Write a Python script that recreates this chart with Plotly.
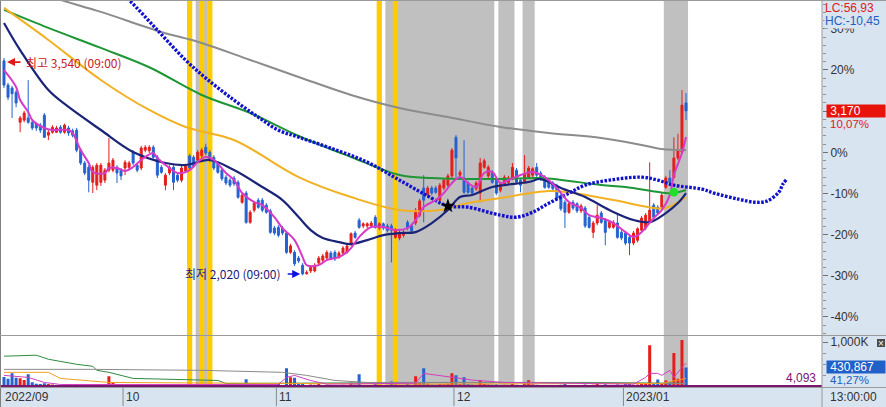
import plotly.graph_objects as go

# ------------------------------------------------------------------ data
base_price = 2880            # price that corresponds to 0 %
month_labels = ["2022/09", "10", "11", "12", "2023/01"]
month_start_idx = [0, 30, 68, 112, 154]

opens = [3520, 3350, 3330, 3300, 3090, 3105, 3120, 3090, 3080, 3070,
         3140, 3000, 3020, 3020, 3055, 3020, 3050, 3030, 3035, 2895,
         2805, 2775, 2670, 2650, 2670, 2685, 2755, 2755, 2775, 2755,
         2770, 2775, 2880, 2790, 2770, 2895, 2890, 2915, 2845, 2775,
         2650, 2735, 2775, 2720, 2685, 2750, 2855, 2845, 2825, 2855,
         2915, 2880, 2845, 2800, 2755, 2705, 2685, 2700, 2670, 2530,
         2595, 2390, 2475, 2545, 2545, 2510, 2470, 2350, 2355, 2350,
         2315, 2180, 2180, 2140, 2090, 2030, 2050, 2050, 2105, 2125,
         2140, 2175, 2180, 2145, 2175, 2180, 2240, 2315, 2405, 2365,
         2365, 2365, 2425, 2350, 2380, 2365, 2365, 2285, 2280, 2300,
         2390, 2365, 2385, 2440, 2630, 2580, 2630, 2630, 2545, 2630,
         2650, 2715, 2985, 2720, 2700, 2665, 2630, 2625, 2595, 2775,
         2715, 2740, 2685, 2615, 2660, 2670, 2700, 2755, 2685, 2670,
         2705, 2720, 2775, 2735, 2705, 2680, 2665, 2645, 2580, 2530,
         2460, 2530, 2520, 2470, 2490, 2425, 2320, 2385, 2455, 2405,
         2355, 2355, 2385, 2320, 2315, 2285, 2245, 2265, 2335, 2350,
         2390, 2510, 2495, 2495, 2635, 2700, 2705, 2840, 2880, 3225]
highs = [3540, 3365, 3345, 3315, 3135, 3170, 3385, 3105, 3090, 3085,
         3155, 3035, 3070, 3065, 3070, 3080, 3065, 3045, 3050, 2910,
         2820, 2790, 2790, 2805, 2805, 2770, 2980, 2840, 2790, 2770,
         2825, 2820, 2895, 2805, 2925, 2930, 2930, 2930, 2860, 2790,
         2735, 2790, 2790, 2735, 2785, 2800, 2870, 2860, 2895, 2910,
         2940, 2895, 2860, 2810, 2770, 2720, 2700, 2715, 2685, 2595,
         2610, 2475, 2540, 2560, 2560, 2525, 2485, 2365, 2370, 2365,
         2330, 2240, 2195, 2155, 2105, 2055, 2090, 2105, 2155, 2170,
         2195, 2190, 2195, 2190, 2225, 2240, 2320, 2330, 2420, 2390,
         2390, 2400, 2440, 2390, 2390, 2380, 2380, 2350, 2335, 2335,
         2405, 2380, 2490, 2555, 2720, 2645, 2645, 2645, 2665, 2700,
         2730, 2910, 3000, 2755, 2965, 2680, 2645, 2680, 2840, 2835,
         2790, 2755, 2700, 2670, 2720, 2715, 2805, 2770, 2700, 2860,
         2785, 2775, 2805, 2750, 2720, 2695, 2680, 2660, 2595, 2545,
         2530, 2545, 2530, 2520, 2505, 2440, 2400, 2510, 2470, 2420,
         2405, 2405, 2455, 2335, 2330, 2300, 2330, 2355, 2435, 2455,
         2810, 2525, 2510, 2595, 2715, 2755, 2985, 3010, 3315, 3295]
lows = [3330, 3245, 3120, 3195, 3020, 3090, 3080, 3035, 3030, 3015,
        2980, 2965, 3010, 3015, 3010, 3010, 2995, 2985, 2880, 2790,
        2720, 2600, 2595, 2615, 2645, 2665, 2740, 2740, 2665, 2685,
        2720, 2755, 2790, 2740, 2755, 2880, 2875, 2835, 2700, 2730,
        2615, 2720, 2615, 2670, 2670, 2735, 2755, 2770, 2810, 2840,
        2860, 2810, 2755, 2730, 2680, 2650, 2635, 2645, 2555, 2520,
        2380, 2380, 2460, 2485, 2460, 2450, 2310, 2300, 2285, 2300,
        2170, 2170, 2085, 2105, 2020, 2025, 2035, 2040, 2090, 2110,
        2125, 2125, 2120, 2135, 2160, 2170, 2225, 2275, 2345, 2350,
        2350, 2350, 2345, 2335, 2335, 2320, 2110, 2275, 2265, 2285,
        2335, 2315, 2370, 2425, 2390, 2565, 2580, 2590, 2530, 2615,
        2635, 2700, 2705, 2705, 2590, 2590, 2580, 2610, 2530, 2765,
        2700, 2660, 2580, 2600, 2645, 2660, 2685, 2660, 2600, 2660,
        2695, 2705, 2705, 2680, 2625, 2625, 2610, 2545, 2470, 2350,
        2450, 2475, 2455, 2455, 2350, 2345, 2280, 2370, 2380, 2230,
        2345, 2345, 2275, 2265, 2230, 2160, 2230, 2250, 2320, 2335,
        2380, 2415, 2440, 2485, 2625, 2660, 2695, 2825, 2870, 3105]
closes = [3350, 3265, 3290, 3225, 3120, 3155, 3090, 3050, 3050, 3035,
          2985, 3020, 3055, 3050, 3020, 3070, 3015, 3000, 2895, 2805,
          2735, 2685, 2775, 2790, 2790, 2755, 2805, 2825, 2735, 2715,
          2810, 2805, 2805, 2755, 2910, 2915, 2915, 2845, 2720, 2740,
          2720, 2775, 2670, 2685, 2770, 2785, 2770, 2785, 2880, 2895,
          2875, 2825, 2770, 2740, 2695, 2665, 2650, 2660, 2565, 2580,
          2390, 2460, 2525, 2495, 2475, 2460, 2320, 2315, 2300, 2315,
          2180, 2225, 2100, 2120, 2030, 2040, 2075, 2090, 2140, 2155,
          2180, 2140, 2135, 2175, 2210, 2225, 2310, 2285, 2355, 2380,
          2380, 2385, 2355, 2380, 2350, 2335, 2335, 2335, 2320, 2320,
          2350, 2330, 2475, 2540, 2545, 2630, 2595, 2600, 2650, 2685,
          2715, 2895, 2840, 2740, 2600, 2600, 2595, 2665, 2805, 2820,
          2775, 2670, 2595, 2660, 2705, 2700, 2775, 2670, 2650, 2730,
          2770, 2765, 2720, 2695, 2635, 2635, 2625, 2560, 2485, 2460,
          2520, 2490, 2470, 2505, 2365, 2355, 2385, 2440, 2390, 2320,
          2390, 2390, 2285, 2280, 2245, 2245, 2315, 2345, 2420, 2440,
          2475, 2425, 2455, 2580, 2700, 2670, 2840, 2895, 3210, 3170]
volumes_k = [220, 180, 300, 200, 190, 150, 280, 100, 70, 60,
             80, 60, 50, 40, 40, 50, 40, 35, 60, 50,
             40, 60, 50, 40, 45, 35, 235, 90, 60, 40,
             35, 30, 40, 30, 45, 30, 25, 30, 40, 25,
             30, 25, 35, 25, 30, 25, 60, 35, 70, 50,
             40, 30, 35, 30, 35, 30, 25, 25, 40, 30,
             170, 50, 40, 30, 35, 30, 80, 45, 60, 40,
             415, 215, 200, 60, 80, 40, 50, 45, 60, 40,
             45, 35, 40, 30, 45, 40, 90, 50, 280, 40,
             30, 35, 70, 40, 35, 40, 120, 50, 40, 35,
             60, 40, 235, 80, 415, 70, 50, 45, 60, 55,
             70, 300, 260, 60, 215, 60, 50, 45, 150, 60,
             50, 45, 55, 40, 45, 35, 60, 45, 40, 70,
             145, 50, 45, 35, 40, 30, 30, 40, 45, 60,
             40, 30, 30, 35, 50, 40, 45, 60, 35, 55,
             30, 30, 50, 35, 80, 60, 45, 50, 60, 70,
             930, 80, 165, 70, 140, 100, 753, 180, 1045, 431]

# price moving-average lines (bar index, price)
ma_gray_idx = [0, 14, 24, 39, 49, 61, 73, 86, 98, 110, 123, 135, 148, 158, 163, 169]
ma_gray = [4072, 3946, 3862, 3722, 3645, 3526, 3407, 3281, 3190, 3127, 3057, 3015, 2980, 2931, 2903, 2896]
ma_green_idx = [0, 11, 24, 36, 49, 61, 73, 86, 98, 106, 123, 133, 148, 154, 164, 166, 169]
ma_green = [3876, 3750, 3610, 3475, 3281, 3155, 2994, 2847, 2721, 2700, 2693, 2700, 2651, 2637, 2595, 2595, 2616]
ma_orange_idx = [0, 11, 24, 36, 45, 57, 73, 86, 98, 108, 115, 123, 135, 141, 151, 161, 164, 169]
ma_orange = [3890, 3666, 3386, 3176, 3057, 2966, 2707, 2567, 2476, 2476, 2525, 2560, 2609, 2595, 2546, 2490, 2490, 2567]
ma_navy_idx = [0, 4, 11, 16, 24, 32, 40, 45, 51, 57, 64, 69, 73, 76, 79, 83, 86, 90, 94, 98,
               102, 106, 110, 113, 116, 121, 130, 133, 138, 144, 150, 156, 160, 164, 167, 169]
ma_navy = [3785, 3595, 3315, 3197, 3036, 2882, 2805, 2791, 2826, 2756, 2637, 2546, 2427, 2336, 2280, 2252, 2238, 2266, 2301, 2315,
           2322, 2385, 2476, 2567, 2581, 2637, 2672, 2693, 2630, 2567, 2476, 2406, 2392, 2455, 2525, 2595]
ma_pink_idx = [0, 3, 4, 6, 7, 10, 12, 16, 17, 19, 21, 22, 25, 26, 28, 30, 32, 34, 37, 38,
               41, 43, 46, 48, 50, 52, 55, 57, 59, 62, 64, 67, 69, 72, 74, 75, 78, 80, 83, 85,
               86, 88, 91, 94, 97, 100, 102, 104, 107, 109, 111, 113, 115, 117, 119, 121, 123, 125, 128, 131,
               134, 137, 140, 143, 145, 148, 151, 154, 156, 158, 161, 163, 165, 166, 168, 169]
ma_pink = [3455, 3337, 3246, 3162, 3106, 3050, 3036, 3036, 3015, 2896, 2805, 2742, 2735, 2770, 2770, 2750, 2777, 2826, 2875, 2840,
           2770, 2735, 2756, 2812, 2847, 2826, 2735, 2686, 2595, 2532, 2511, 2427, 2350, 2266, 2147, 2091, 2091, 2126, 2147, 2182,
           2210, 2287, 2357, 2357, 2336, 2350, 2406, 2497, 2546, 2595, 2665, 2707, 2665, 2637, 2735, 2742, 2665, 2686, 2721, 2742,
           2707, 2630, 2532, 2490, 2441, 2420, 2385, 2322, 2287, 2322, 2420, 2476, 2581, 2721, 2875, 2987]
shifted_idx = [26, 31, 38, 45, 50, 57, 63, 68, 73, 81, 90, 98, 106, 110, 115, 123, 127, 131, 135, 140,
               144, 150, 158, 162, 166, 173, 176, 182, 186, 189, 192, 193, 194]
shifted_line = [4071, 3945, 3735, 3525, 3399, 3245, 3126, 3035, 2986, 2909, 2811, 2685, 2559, 2503, 2496, 2440, 2426, 2461, 2524, 2594,
                2650, 2685, 2706, 2685, 2650, 2622, 2594, 2552, 2531, 2538, 2601, 2657, 2692]

# volume moving-average lines (bar index, thousand shares)
vol_green_idx = [0, 8, 11, 18, 22, 23, 26, 32, 53, 55, 111, 146, 169]
vol_green = [684, 706, 616, 503, 458, 368, 323, 187, 142, 74, 97, 97, 75]
vol_gray_idx = [0, 22, 49, 69, 75, 82, 90, 111, 169]
vol_gray = [390, 390, 368, 323, 255, 142, 97, 97, 75]
vol_orange_idx = [0, 11, 14, 26, 100, 160, 163, 169]
vol_orange = [323, 323, 187, 97, 60, 60, 75, 187]
vol_pink_idx = [0, 6, 10, 14, 68, 70, 72, 76, 80, 102, 104, 108, 112, 116, 124, 156, 159, 160, 162, 163, 165, 166, 168, 169]
vol_pink = [255, 210, 97, 52, 52, 210, 255, 140, 60, 80, 300, 250, 210, 150, 97, 60, 210, 300, 300, 255, 368, 210, 436, 526]
vol_purple_value_k = 4.093

# signal highlights (bar indices)
yellow_band_idx = [46, 49, 51, 93, 97]
gray_band_ranges = [[48, 48], [50, 50], [95, 121], [123, 126], [129, 131], [164, 169]]
signal_black = ([110], [2504])
signal_green = ([166], [2601])

# ------------------------------------------------------------------ style
W, H = 886, 407
PLOT_R = 822
def px(x):
    return x / W
def py(y):
    return 1 - y / H

RED = "#e41e1c"
BLUE = "#2462d0"
PANEL = "#d9e4f1"
FONT = "Liberation Sans, Arial, sans-serif"
KFONT = "Noto Sans CJK KR, sans-serif"

n = len(closes)
idx = list(range(n))
x_range = [-0.99, 202.7]
y_main_range = [1598.5, 3945.3]
y_vol_range = [-15.8, 1146.6]

fig = go.Figure()

fig.add_trace(go.Candlestick(
    x=idx, open=opens, high=highs, low=lows, close=closes,
    increasing=dict(line=dict(color=RED, width=1), fillcolor=RED),
    decreasing=dict(line=dict(color=BLUE, width=1), fillcolor=BLUE),
    whiskerwidth=0, hoverinfo="skip", showlegend=False, xaxis="x", yaxis="y"))

def line(xs, ys, color, width, shape="spline", dash=None, xa="x", ya="y"):
    fig.add_trace(go.Scatter(
        x=xs, y=ys, mode="lines",
        line=dict(color=color, width=width, shape=shape, dash=dash),
        hoverinfo="skip", showlegend=False, xaxis=xa, yaxis=ya))

line(ma_gray_idx, ma_gray, "#8c8c8c", 2)
line(ma_green_idx, ma_green, "#1f9636", 2)
line(ma_orange_idx, ma_orange, "#f2b122", 2)
line(ma_navy_idx, ma_navy, "#1a2478", 2.2)
line(shifted_idx, shifted_line, "#1212cc", 3.4, dash="2.6px,1.5px")
line(ma_pink_idx, ma_pink, "#d63ac8", 2)

fig.add_trace(go.Scatter(x=signal_black[0], y=signal_black[1], mode="markers",
                         marker=dict(symbol="star", size=11, color="black"),
                         hoverinfo="skip", showlegend=False))
fig.add_trace(go.Scatter(x=signal_green[0], y=signal_green[1], mode="markers",
                         marker=dict(symbol="circle", size=9, color="#22e02a"),
                         hoverinfo="skip", showlegend=False))

# volume panel
vol_colors = [RED if c >= o else BLUE for o, c in zip(opens, closes)]
fig.add_trace(go.Bar(x=idx, y=volumes_k, marker=dict(color=vol_colors, line=dict(width=0)),
                     hoverinfo="skip", showlegend=False, xaxis="x2", yaxis="y2"))
line(vol_green_idx, vol_green, "#2e8b3e", 1, shape="linear", xa="x2", ya="y2")
line(vol_gray_idx, vol_gray, "#8a8a8a", 1, shape="linear", xa="x2", ya="y2")
line(vol_orange_idx, vol_orange, "#f0a020", 1, shape="linear", xa="x2", ya="y2")
line(vol_pink_idx, vol_pink, "#d040c0", 1, shape="linear", xa="x2", ya="y2")
line([x_range[0], x_range[1]], [vol_purple_value_k, vol_purple_value_k], "#7a1670", 3,
     shape="linear", xa="x2", ya="y2")

# ------------------------------------------------------------------ shapes
shapes = [dict(type="rect", xref="paper", yref="paper", x0=0, x1=px(PLOT_R), y0=py(387.5), y1=1,
               fillcolor="white", line=dict(width=0), layer="below")]
for a, b in gray_band_ranges:
    shapes.append(dict(type="rect", xref="x", yref="paper", x0=a - 0.5, x1=b + 0.5,
                       y0=py(387.5), y1=1, fillcolor="#c0c0c0", line=dict(width=0), layer="below"))
for i in yellow_band_idx:
    shapes.append(dict(type="rect", xref="x", yref="paper", x0=i - 0.65, x1=i + 0.65,
                       y0=py(387.5), y1=1, fillcolor="#ffcc00", line=dict(width=0), layer="below"))
border = "#9a9a9a"
shapes += [
    dict(type="line", xref="paper", yref="paper", x0=px(0.5), x1=px(0.5), y0=py(407), y1=1,
         line=dict(color="#808080", width=1)),
    dict(type="line", xref="paper", yref="paper", x0=0, x1=1, y0=py(0.5), y1=py(0.5),
         line=dict(color=border, width=1)),
    dict(type="line", xref="paper", yref="paper", x0=px(PLOT_R), x1=px(PLOT_R), y0=0, y1=1,
         line=dict(color=border, width=1)),
    dict(type="line", xref="paper", yref="paper", x0=0, x1=1, y0=py(335.5), y1=py(335.5),
         line=dict(color=border, width=1)),
    dict(type="line", xref="paper", yref="paper", x0=0, x1=1, y0=py(387.5), y1=py(387.5),
         line=dict(color=border, width=1)),
    dict(type="rect", xref="paper", yref="paper", x0=px(877), x1=px(885), y0=py(347), y1=py(339),
         fillcolor="#4a4a4a", line=dict(width=0)),
]
for m in month_start_idx[1:]:
    shapes.append(dict(type="line", xref="x", yref="paper", x0=m - 0.5, x1=m - 0.5,
                       y0=py(406), y1=py(388), line=dict(color="#8a8a8a", width=1)))

# ------------------------------------------------------------------ annotations
ann = []
for lab, m in zip(month_labels, month_start_idx):
    ann.append(dict(text=lab, xref="x", yref="paper", x=max(m - 0.5, -0.6), y=py(397),
                    xanchor="left", yanchor="middle", xshift=1, showarrow=False,
                    font=dict(family=FONT, size=12, color="#333333")))

def ptext(text, x, y, color, anchor="left", bg=None, size=12, width=None, height=None, family=FONT):
    d = dict(text=text, xref="paper", yref="paper", x=px(x), y=py(y), xanchor=anchor,
             yanchor="middle", showarrow=False, font=dict(family=family, size=size, color=color),
             borderpad=0, align="left")
    if bg:
        d["bgcolor"] = bg
    if width:
        d["width"] = width
    if height:
        d["height"] = height
    ann.append(d)

ptext("LC:56,93", 824, 8, "#e02020")
ptext("HC:-10,45", 824, 21, "#2060c0", bg=PANEL)
ptext(" 3,170", 826, 111, "white", bg="#e8140c", width=58, height=12)
ptext("10,07%", 829, 124, "#e02020", size=11.5)
ptext(" 430,867", 826, 366.5, "white", bg="#2060c8", width=58, height=12)
ptext("41,27%", 829, 379.5, "#2060c0", size=11.5)
ptext("4,093", 817, 378, "#7a1670", anchor="right")
ptext("13:00:00", 829, 397, "#333333")
ptext("×", 881, 343, "white", anchor="center", size=10)

# high / low labels
ann.append(dict(text=" ", x=0.75, y=3511, xref="x", yref="y", showarrow=True, ax=15, ay=0,
                arrowhead=2, arrowsize=1, arrowwidth=1.6, arrowcolor="#e01818",
                font=dict(size=1)))
ann.append(dict(text="최고 3,540 (09:00)", x=4.9, y=3511, xref="x", yref="y", xanchor="left",
                yanchor="middle", showarrow=False, font=dict(family=KFONT, size=12, color="#cc2020")))
ann.append(dict(text=" ", x=73.4, y=2029, xref="x", yref="y", showarrow=True, ax=-14, ay=0,
                arrowhead=2, arrowsize=1, arrowwidth=1.6, arrowcolor="#1010e0",
                font=dict(size=1)))
ann.append(dict(text="최저 2,020 (09:00)", x=69.2, y=2032, xref="x", yref="y", xanchor="right",
                yanchor="middle", showarrow=False, font=dict(family=KFONT, size=12, color="#1c1c78")))

# ------------------------------------------------------------------ axes
pct_major = [30, 20, 10, 0, -10, -20, -30, -40]
pct_text = ["30%", "20%", "", "0%", "-10%", "-20%", "-30%", "-40%"]
pct_minor = [p for p in range(-44, 38, 2) if p % 10 != 0]

fig.update_layout(
    width=W, height=H, margin=dict(l=0, r=0, t=0, b=0),
    paper_bgcolor=PANEL, plot_bgcolor="rgba(0,0,0,0)",
    showlegend=False, bargap=0.25, hovermode=False,
    xaxis=dict(domain=[0, px(PLOT_R)], range=x_range, visible=False, anchor="y",
               rangeslider=dict(visible=False), fixedrange=True),
    xaxis2=dict(domain=[0, px(PLOT_R)], range=x_range, visible=False, anchor="y2",
                matches="x", rangeslider=dict(visible=False)),
    yaxis=dict(domain=[py(335.5), 1], range=y_main_range, side="right", anchor="x",
               tickmode="array", tickvals=[base_price * (1 + p / 100) for p in pct_major],
               ticktext=pct_text, ticks="outside", ticklen=5, tickcolor="#707070",
               tickfont=dict(family=FONT, size=12, color="#333333"),
               showgrid=False, zeroline=False, showline=False, fixedrange=True,
               minor=dict(tickvals=[base_price * (1 + p / 100) for p in pct_minor],
                          ticks="outside", ticklen=3, tickcolor="#909090", showgrid=False)),
    yaxis2=dict(domain=[py(387.5), py(335.5)], range=y_vol_range, side="right", anchor="x2",
                tickmode="array", tickvals=[1000], ticktext=["1,000K"],
                ticks="outside", ticklen=5, tickcolor="#707070",
                tickfont=dict(family=FONT, size=12, color="#333333"),
                showgrid=False, zeroline=False, showline=False, fixedrange=True,
                minor=dict(tickvals=[250, 500, 750], ticks="outside", ticklen=3,
                           tickcolor="#909090", showgrid=False)),
    shapes=shapes, annotations=ann,
)

fig.write_html("out.html", config={"displayModeBar": False},
               post_script="document.body.style.margin='0';document.body.style.padding='0';")
